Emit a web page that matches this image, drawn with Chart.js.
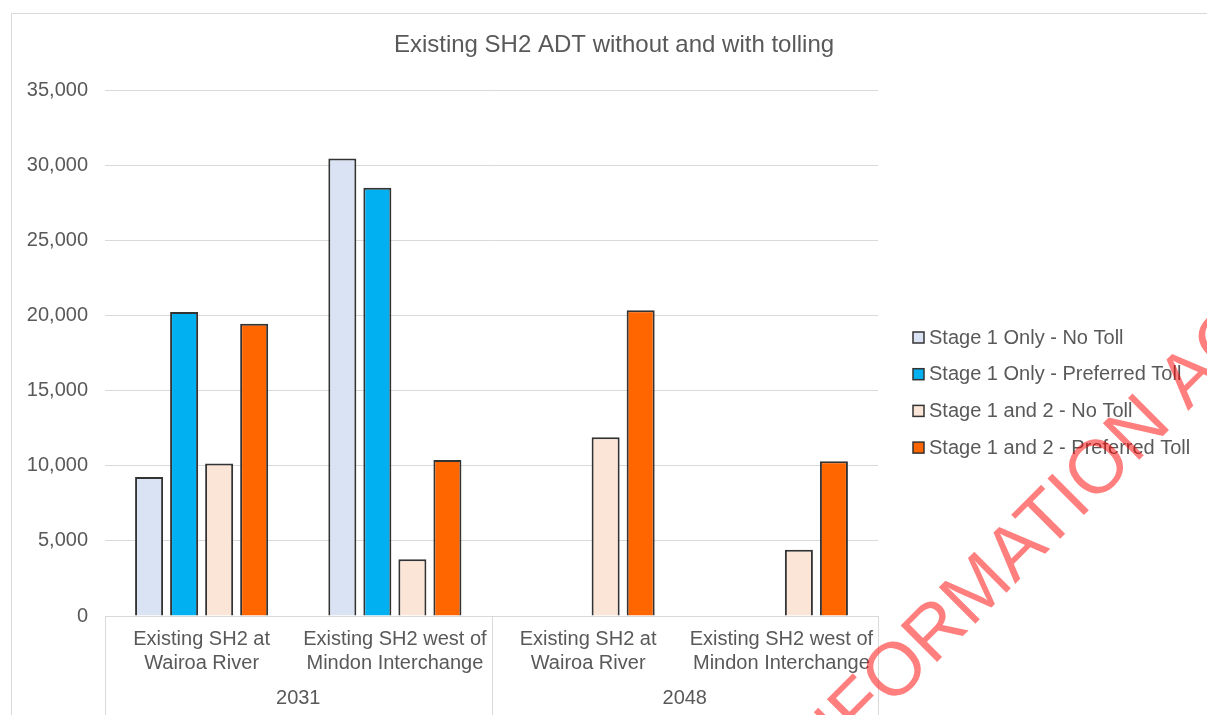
<!DOCTYPE html>
<html>
<head>
<meta charset="utf-8">
<script src="https://cdn.jsdelivr.net/npm/chart.js@4/dist/chart.umd.min.js"></script>
<style>
  html, body { margin: 0; padding: 0; background: #fff; }
  #wrap { width: 1207px; height: 715px; position: relative; }
</style>
</head>
<body>
<div id="wrap"><canvas id="adt-chart"></canvas></div>
<script>
const chartTitle = "Existing SH2 ADT without and with tolling";
const locations = [
  ["Existing SH2 at", "Wairoa River"],
  ["Existing SH2 west of", "Mindon Interchange"],
  ["Existing SH2 at", "Wairoa River"],
  ["Existing SH2 west of", "Mindon Interchange"]
];
const years = ["2031", "2048"];
const seriesNames = [
  "Stage 1 Only - No Toll",
  "Stage 1 Only - Preferred Toll",
  "Stage 1 and 2 - No Toll",
  "Stage 1 and 2 - Preferred Toll"
];
const stage1NoToll = [9250, 30450, null, null];
const stage1PrefToll = [20230, 28500, null, null];
const stage12NoToll = [10150, 3780, 11900, 4400];
const stage12PrefToll = [19450, 10380, 20350, 10300];
const seriesColors = ["#dae3f3", "#00b0f0", "#fbe5d6", "#ff6600"];
const watermarkText = "RELEASED UNDER THE OFFICIAL INFORMATION ACT";

const FONT = "'Liberation Sans', Arial, sans-serif";
const TEXT = "#595959";

const decor = {
  id: "decor",
  beforeDraw(chart) {
    const ctx = chart.ctx;
    ctx.save();
    ctx.strokeStyle = "#d9d9d9";
    ctx.lineWidth = 1;
    ctx.strokeRect(11.5, 13.5, 1230, 730);
    ctx.restore();
  },
  afterDraw(chart) {
    const ctx = chart.ctx;
    const x = chart.scales.x;
    const area = chart.chartArea;
    ctx.save();

    // title
    ctx.fillStyle = TEXT;
    ctx.font = "24px " + FONT;
    ctx.textAlign = "center";
    ctx.textBaseline = "middle";
    ctx.fillText(chartTitle, 614, 45);

    // year group separators + labels
    ctx.font = "20px " + FONT;
    const mid = (x.getPixelForValue(1) + x.getPixelForValue(2)) / 2;
    const seps = [x.left, mid, x.right];
    ctx.strokeStyle = "#d9d9d9";
    ctx.lineWidth = 1;
    seps.forEach((sx) => {
      ctx.beginPath();
      ctx.moveTo(Math.round(sx) + 0.5, area.bottom);
      ctx.lineTo(Math.round(sx) + 0.5, chart.height);
      ctx.stroke();
    });
    ctx.fillText(years[0], (seps[0] + seps[1]) / 2, 698);
    ctx.fillText(years[1], (seps[1] + seps[2]) / 2, 698);

    // legend
    ctx.textAlign = "left";
    seriesNames.forEach((name, i) => {
      const ly = 338 + i * 36.7;
      ctx.fillStyle = seriesColors[i];
      ctx.fillRect(913, ly - 6, 11, 11);
      ctx.strokeStyle = "#333";
      ctx.lineWidth = 1.5;
      ctx.strokeRect(913, ly - 6, 11, 11);
      ctx.fillStyle = TEXT;
      ctx.fillText(name, 929, ly);
    });

    // watermark
    ctx.font = "75px " + FONT;
    const pre = ctx.measureText("RELEASED UNDER THE OFFICIAL IN").width;
    ctx.translate(859, 740);
    ctx.rotate(-Math.PI / 4);
    ctx.fillStyle = "rgba(255, 0, 0, 0.5)";
    ctx.textBaseline = "alphabetic";
    ctx.fillText(watermarkText, -pre, 0);
    ctx.restore();
  }
};

const datasets = [stage1NoToll, stage1PrefToll, stage12NoToll, stage12PrefToll].map((vals, i) => ({
  label: seriesNames[i],
  data: vals,
  backgroundColor: seriesColors[i],
  borderColor: "#333",
  borderWidth: 2,
  categoryPercentage: 0.725,
  barPercentage: 0.8
}));

new Chart(document.getElementById("adt-chart"), {
  type: "bar",
  data: { labels: locations, datasets },
  options: {
    responsive: true,
    maintainAspectRatio: false,
    animation: false,
    layout: { padding: { top: 90, right: 329, bottom: 0, left: 0 } },
    plugins: {
      legend: { display: false },
      title: { display: false },
      tooltip: { enabled: false }
    },
    scales: {
      x: {
        grid: { display: false, drawTicks: false },
        border: { display: true, color: "#d9d9d9", width: 1 },
        ticks: { color: TEXT, font: { family: FONT, size: 20 }, padding: 11, maxRotation: 0, autoSkip: false },
        afterFit(scale) { scale.height = 99; }
      },
      y: {
        min: 0,
        max: 35000,
        grid: { color: "#d9d9d9", drawTicks: false },
        border: { display: false },
        ticks: {
          stepSize: 5000,
          padding: 17,
          color: TEXT,
          font: { family: FONT, size: 20 },
          callback: (v) => v.toLocaleString("en-US")
        },
        afterFit(scale) { scale.width = 105; }
      }
    }
  },
  plugins: [decor]
});
</script>
</body>
</html>
